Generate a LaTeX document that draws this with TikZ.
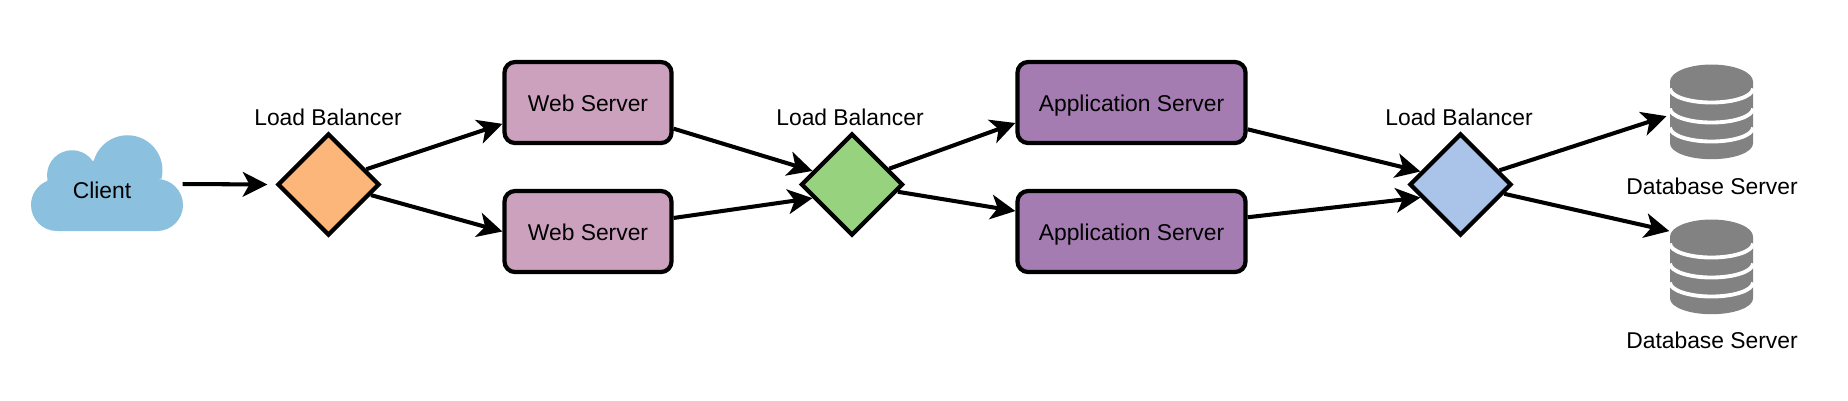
\documentclass[tikz,border=0pt]{standalone}
\usepackage{fontspec}
\setmainfont{Liberation Sans}
\usepackage{xcolor}
\usepackage{tikz}
\usetikzlibrary{arrows.meta}
\usetikzlibrary{shapes.geometric}
\definecolor{cloudblue}{HTML}{8BC1DE}
\definecolor{lbone}{HTML}{FDB67A}
\definecolor{lbtwo}{HTML}{97D37F}
\definecolor{lbthree}{HTML}{A9C4E8}
\definecolor{webpink}{HTML}{CCA1BE}
\definecolor{apppurple}{HTML}{A57CB2}
\definecolor{dbgray}{HTML}{828282}

\begin{document}
\begin{tikzpicture}
                [font=\fontsize{6.5}{8}\selectfont,
                box/.style = {rectangle, rounded corners=3pt, draw, line width=1.2pt, minimum height=0.81cm, inner sep=0pt, text height=6.5pt, text depth=1.2pt},
                lb/.style = {diamond, draw, line width=1.2pt, minimum width=1.02cm, minimum height=1.02cm, inner sep=0pt},
                dbslot/.style = {rectangle, minimum width=0.83cm, minimum height=0.93cm, inner sep=0pt},
                link/.style = {-{Stealth[length=7pt,width=7pt,inset=1.9pt]}, line width=1.15pt}]
                \useasboundingbox (0,0) rectangle (18.48,-4);
                % Cloud outline
                \fill[cloudblue] (0.57,-2.31) arc (270:112:0.26) -- (0.475,-1.80) arc (191:34:0.25)
                    -- (0.94,-1.60) arc (163:-14:0.35) -- (1.57,-1.79) arc (90:-90:0.26) -- cycle;
                \node[minimum width=1.51cm, minimum height=0.96cm, inner sep=0pt] (client) at (1.065,-1.84) {};
                \node (clientlabel) at (1.02,-1.90) {Client};
                % Load balancers
                \node[lb, fill=lbone] (lbA) at (3.285,-1.845) {};
                \node[lb, fill=lbtwo] (lbB) at (8.52,-1.845) {};
                \node[lb, fill=lbthree] (lbC) at (14.605,-1.845) {};
                \node (lbAlabel) at (3.28,-1.17) {Load Balancer};
                \node (lbBlabel) at (8.50,-1.17) {Load Balancer};
                \node (lbClabel) at (14.59,-1.17) {Load Balancer};
                % Servers
                \node[box, fill=webpink, minimum width=1.67cm] (webA) at (5.88,-1.025) {Web Server};
                \node[box, fill=webpink, minimum width=1.67cm] (webB) at (5.88,-2.315) {Web Server};
                \node[box, fill=apppurple, minimum width=2.28cm] (appA) at (11.315,-1.025) {Application Server};
                \node[box, fill=apppurple, minimum width=2.28cm] (appB) at (11.315,-2.315) {Application Server};
                % Databases
                \foreach \dbname/\dby in {dbA/-1.115, dbB/-2.665} {
                    \node[dbslot] (\dbname) at (17.115,\dby) {};
                    \fill[dbgray] (16.70,\dby+0.30) -- (16.70,\dby-0.32) arc (180:360:0.415 and 0.157)
                        -- (17.53,\dby+0.30) arc (0:180:0.415 and 0.17) -- cycle;
                    \foreach \bandy in {0.23,0.03,-0.16}
                        \draw[white, line width=1.1pt] (16.70,\dby+\bandy) arc (180:360:0.415 and 0.14);
                }
                \node (dbAlabel) at (17.12,-1.86) {Database Server};
                \node (dbBlabel) at (17.12,-3.40) {Database Server};
                % Lines
                \draw[link, shorten >=0.08cm] (client.east) -- (lbA.west);
                \draw[link] (lbA.22) -- (webA.194);
                \draw[link] (lbA.-14) -- (webB.west);
                \draw[link] (webA.-17) -- (lbB.161);
                \draw[link] (webB.9) -- (lbB.199);
                \draw[link] (lbB.23) -- (appA.190);
                \draw[link] (lbB.-9) -- (appB.170);
                \draw[link] (appA.-13) -- (lbC.162);
                \draw[link] (appB.7) -- (lbC.198);
                \draw[link, shorten >=0.03cm] (lbC.20) -- (dbA.185);
                \draw[link] (lbC.-12) -- (dbB.140);
            \end{tikzpicture}
\end{document}
